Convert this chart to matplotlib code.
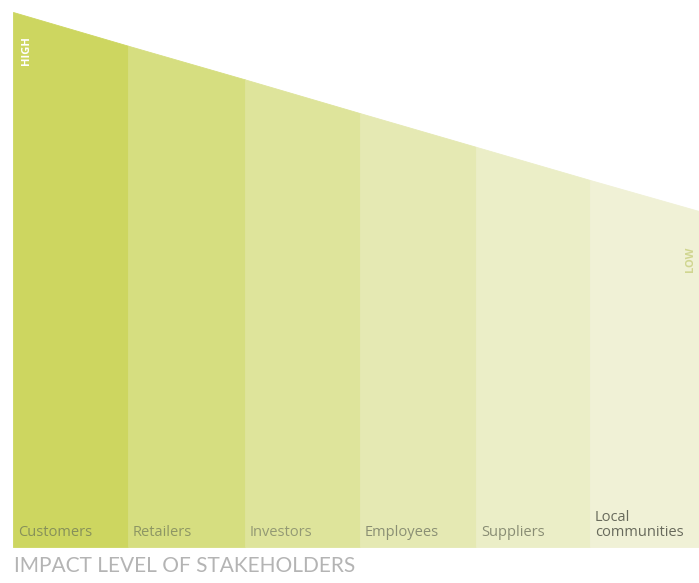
import matplotlib
matplotlib.use("Agg")
import matplotlib.pyplot as plt
import numpy as np

# ---- data ----
categories = ["Customers", "Retailers", "Investors", "Employees", "Suppliers", "Local\ncommunities"]
band_widths = [115, 117, 115, 116, 114, 109]
# impact level at the left and right edge of each band (0-100 scale)
impact_left = [100.0, 93.7, 87.4, 81.1, 74.8, 68.6]
impact_right = [93.7, 87.4, 81.1, 74.8, 68.6, 62.8]
band_colors = ["#cdd660", "#d6de80", "#dee49b", "#e5e9b3", "#ebeec7", "#f0f1d6"]
label_colors = ["#86905a", "#8d9664", "#939974", "#8a8f74", "#898d74", "#686a5c"]
title_text = "IMPACT LEVEL OF STAKEHOLDERS"

W, H = 699, 583
fig = plt.figure(figsize=(W / 100, H / 100), dpi=100)
fig.patch.set_facecolor("white")

ax = fig.add_axes([13 / W, (H - 547) / H, (699 - 13) / W, (547 - 12) / H])
edges = np.concatenate([[0], np.cumsum(band_widths)])
ax.set_xlim(0, edges[-1])
ax.set_ylim(0, 100)
ax.axis("off")

for i, (cat, yl, yr, c, lc) in enumerate(zip(categories, impact_left, impact_right, band_colors, label_colors)):
    x0, x1 = edges[i], edges[i + 1]
    ax.fill_between([x0, x1], [0, 0], [yl, yr], facecolor=c, edgecolor=c, linewidth=0.6)
    ax.text(x0 + 5, 1.4, cat, ha="left", va="bottom", fontsize=10.5,
            family="Open Sans", color=lc, linespacing=0.95)

ax.text(14, 92.8, "HIGH", rotation=90, ha="center", va="center",
        fontsize=8, fontweight="bold", family="Open Sans", color="white")
ax.text(edges[-1] - 9, 53.8, "LOW", rotation=90, ha="center", va="center",
        fontsize=8, fontweight="bold", family="Open Sans", color="#d0d690")

fig.text(14 / W, 1 - 566 / H, title_text, ha="left", va="center",
         fontsize=15, family="Lato", fontweight="normal", color="#b4b4b4")

fig.savefig("out.png", dpi=100, facecolor="white")
